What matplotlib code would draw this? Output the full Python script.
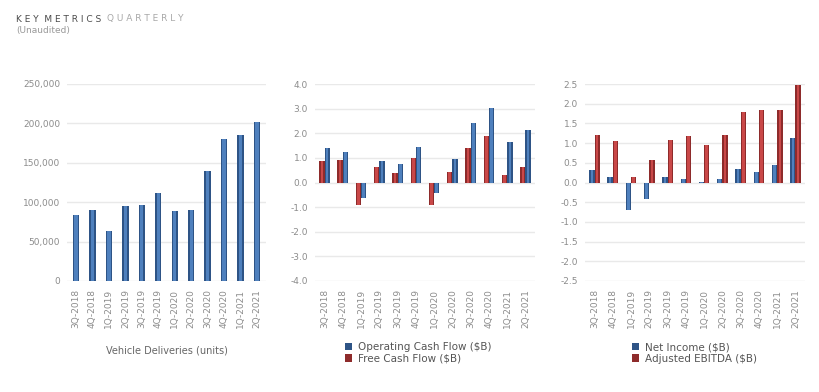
import numpy as np
import matplotlib
matplotlib.use('Agg')
import matplotlib.pyplot as plt
from matplotlib.ticker import FuncFormatter

plt.rcParams['font.family'] = ['DejaVu Sans']

quarters = ['3Q-2018', '4Q-2018', '1Q-2019', '2Q-2019', '3Q-2019', '4Q-2019',
            '1Q-2020', '2Q-2020', '3Q-2020', '4Q-2020', '1Q-2021', '2Q-2021']
deliveries = [83500, 90700, 63000, 95200, 97000, 112000,
              88400, 90650, 139300, 180570, 184800, 201250]
op_cash_flow = [1.39, 1.24, -0.64, 0.86, 0.76, 1.43, -0.44, 0.96, 2.40, 3.02, 1.64, 2.12]
free_cash_flow = [0.88, 0.91, -0.92, 0.61, 0.37, 1.01, -0.90, 0.42, 1.40, 1.87, 0.29, 0.62]
net_income = [0.31, 0.14, -0.70, -0.41, 0.14, 0.10, 0.016, 0.10, 0.33, 0.27, 0.44, 1.14]
adj_ebitda = [1.20, 1.05, 0.15, 0.57, 1.08, 1.18, 0.95, 1.20, 1.80, 1.85, 1.84, 2.48]

BLUE_DK = '#2e5486'
BLUE_LT = '#4f80bd'
RED_DK = '#8e2b2b'
RED_LT = '#c94848'
TICK = '#8c8c8c'
GRID = '#e9e9e9'


def gbar(ax, x, vals, w, dark, light):
    # fake the shaded look: dark bar with a lighter core
    bars = ax.bar(x, vals, w, color=dark, linewidth=0, zorder=2)
    ax.bar(x, vals, w * 0.5, color=light, linewidth=0, zorder=3)
    return bars


def setuplayout(ax, ylim, step, fmt):
    for s in ax.spines.values():
        s.set_visible(False)
    ax.set_ylim(*ylim)
    ax.set_yticks(np.arange(ylim[0], ylim[1] + step / 2, step))
    ax.yaxis.set_major_formatter(FuncFormatter(fmt))
    ax.grid(axis='y', color=GRID, linewidth=1, zorder=0)
    ax.set_axisbelow(True)
    ax.tick_params(length=0, colors=TICK, labelsize=6.5)
    ax.tick_params(axis='y', pad=5)
    ax.tick_params(axis='x', pad=6)
    ax.set_xticks(np.arange(len(quarters)))
    ax.set_xticklabels(quarters, rotation=90)
    ax.set_xlim(-0.55, len(quarters) - 0.45)


fig = plt.figure(figsize=(8.2, 3.92), dpi=100)

# title: two tones, letter-spaced
t1 = fig.text(16 / 820, 1 - 19 / 392, 'K E Y  M E T R I C S', color='#4a4a4a',
              fontsize=6.5, va='center')
fig.add_artist(matplotlib.text.Annotation(
    'Q U A R T E R L Y', xy=(1, 0.5), xycoords=t1, xytext=(4, 0),
    textcoords='offset points', color='#a8a8a8', fontsize=6.5, va='center'))
fig.text(16 / 820, 1 - 30 / 392, '(Unaudited)', color='#999999',
         fontsize=6.5, va='center')

x = np.arange(len(quarters))

# deliveries
ax1 = fig.add_axes([67 / 820, 1 - 281 / 392, 199 / 820, 197 / 392])
setuplayout(ax1, (0, 250000), 50000, lambda v, p: f'{int(v):,}')
gbar(ax1, x, deliveries, 0.38, BLUE_DK, BLUE_LT)
ax1.set_xlabel('Vehicle Deliveries (units)', color='#666666', fontsize=7, labelpad=12)

# cash flow
ax2 = fig.add_axes([315 / 820, 1 - 281 / 392, 220 / 820, 197 / 392])
setuplayout(ax2, (-4, 4), 1, lambda v, p: f'{v:.1f}')
ax2.set_xlim(-0.52, len(quarters) - 0.48)
w = 0.29
b_ocf = gbar(ax2, x + w / 2, op_cash_flow, w, BLUE_DK, BLUE_LT)
b_fcf = gbar(ax2, x - w / 2, free_cash_flow, w, RED_DK, RED_LT)
ax2.legend([b_ocf, b_fcf], ['Operating Cash Flow ($B)', 'Free Cash Flow ($B)'],
           loc='upper left', bbox_to_anchor=(340 / 820, 1 - 337 / 392),
           bbox_transform=fig.transFigure, frameon=False, fontsize=7.5,
           handlelength=0.7, handleheight=0.7, handletextpad=0.5,
           labelspacing=0.15, borderpad=0, labelcolor='#555555')

# profit
ax3 = fig.add_axes([585 / 820, 1 - 281 / 392, 220 / 820, 197 / 392])
setuplayout(ax3, (-2.5, 2.5), 0.5, lambda v, p: f'{v:.1f}')
ax3.set_xlim(-0.52, len(quarters) - 0.48)
b_ni = gbar(ax3, x - w / 2, net_income, w, BLUE_DK, BLUE_LT)
b_eb = gbar(ax3, x + w / 2, adj_ebitda, w, RED_DK, RED_LT)
ax3.legend([b_ni, b_eb], ['Net Income ($B)', 'Adjusted EBITDA ($B)'],
           loc='upper left', bbox_to_anchor=(627 / 820, 1 - 337 / 392),
           bbox_transform=fig.transFigure, frameon=False, fontsize=7.5,
           handlelength=0.7, handleheight=0.7, handletextpad=0.5,
           labelspacing=0.15, borderpad=0, labelcolor='#555555')

fig.savefig('out.png', dpi=100)
